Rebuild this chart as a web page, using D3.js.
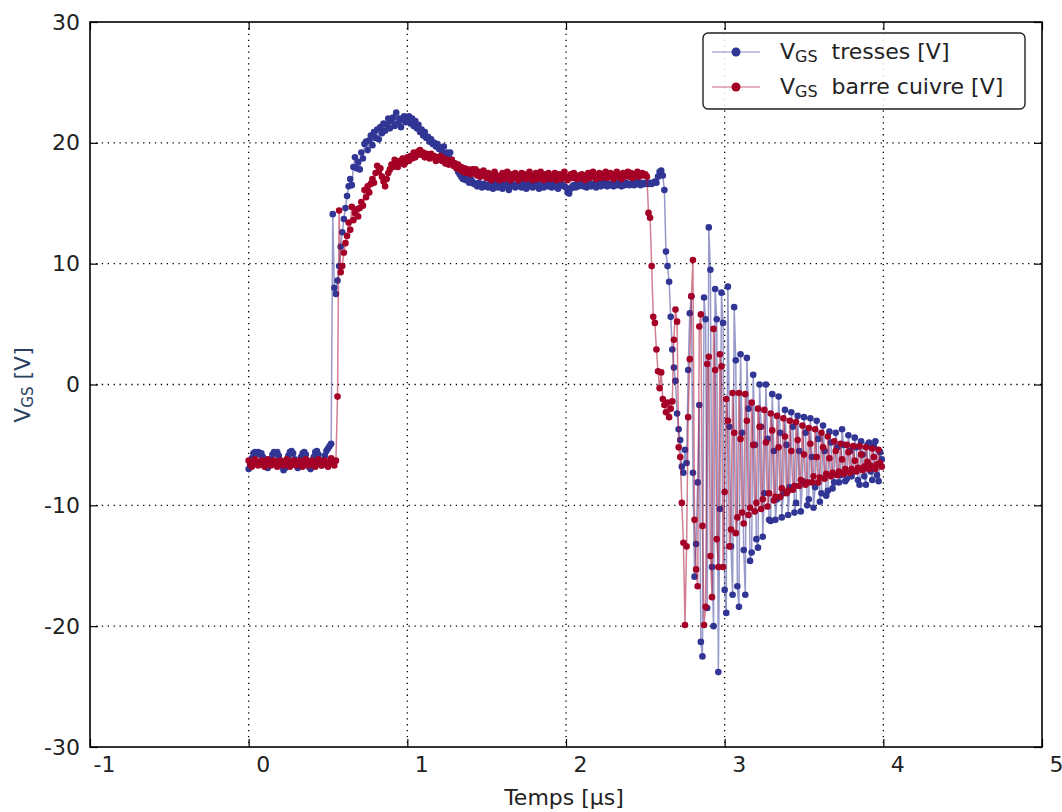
<!DOCTYPE html>
<html><head><meta charset="utf-8">
<script src="https://cdn.jsdelivr.net/npm/d3@7"></script>
<style>
html,body{margin:0;padding:0;background:#fff;}
svg{display:block;font-family:"DejaVu Sans",sans-serif;}
</style></head>
<body>
<svg id="chart" width="1062" height="812"></svg>
<script>
// ---- data (t in µs, sampled every 0.01 µs from 0) ----
const timeStart = 0;
const timeStep = 0.01;
const xTicks = [-1, 0, 1, 2, 3, 4, 5];
const yTicks = [-30, -20, -10, 0, 10, 20, 30];
const seriesNames = ["tresses [V]", "barre cuivre [V]"];

const vgsTresses = [
-7.0,-6.8,-6.1,-5.7,-5.6,-5.7,-5.6,-5.8,-5.7,-6.0,
-6.5,-6.8,-6.9,-6.6,-6.2,-5.8,-5.6,-5.7,-5.6,-5.9,
-6.3,-6.8,-7.1,-6.9,-6.4,-5.9,-5.6,-5.5,-5.7,-6.2,
-6.7,-6.9,-6.6,-6.0,-5.7,-5.6,-5.8,-6.3,-6.8,-7.0,
-6.6,-6.0,-5.6,-5.5,-5.8,-6.3,-6.7,-6.4,-5.9,-5.5,
-5.3,-5.1,-4.9,14.1,8.0,7.5,8.6,9.8,11.4,12.6,
13.7,14.6,15.6,16.4,17.0,16.5,18.0,18.8,17.9,18.4,
17.8,19.2,18.7,19.9,20.1,19.4,20.2,20.6,19.8,20.9,
20.4,21.1,20.3,21.3,20.8,21.6,21.0,21.5,22.0,21.2,
21.8,22.1,21.4,22.5,21.6,22.0,21.3,21.9,22.2,21.7,
21.9,22.2,21.6,22.0,21.4,21.8,21.2,21.5,20.9,21.1,
20.6,20.9,20.4,20.5,20.1,20.3,19.9,20.0,19.7,19.9,
19.5,19.6,19.2,19.7,19.0,19.2,18.8,19.2,18.6,18.3,
18.1,17.9,17.6,17.4,17.2,17.0,17.2,16.9,17.0,16.7,
17.0,16.8,16.6,16.6,16.4,16.7,16.5,16.3,16.6,16.4,
16.5,16.3,16.6,16.4,16.2,16.5,16.6,16.3,16.5,16.4,
16.2,16.5,16.6,16.4,16.1,16.4,16.6,16.5,16.3,16.5,
16.6,16.4,16.3,16.6,16.5,16.2,16.4,16.6,16.5,16.3,
16.4,16.6,16.5,16.2,16.4,16.6,16.3,16.5,16.7,16.4,
16.5,16.3,16.6,16.4,16.5,16.2,16.4,16.6,16.5,16.4,
16.3,15.9,15.8,16.2,16.4,16.5,16.3,16.6,16.4,16.5,
16.6,16.4,16.5,16.3,16.6,16.5,16.4,16.6,16.5,16.3,
16.5,16.6,16.4,16.5,16.7,16.5,16.4,16.6,16.5,16.6,
16.4,16.6,16.5,16.7,16.5,16.4,16.6,16.5,16.7,16.6,
16.5,16.6,16.7,16.5,16.6,16.8,16.6,16.5,16.7,16.6,
16.6,16.7,16.6,16.7,16.6,16.7,16.8,16.7,17.2,17.6,
17.7,17.3,16.1,11.0,9.8,8.5,5.6,2.9,1.4,0.3,
-2.4,-3.7,-4.6,-6.8,-7.3,-5.4,-6.5,1.2,5.9,7.3,
-7.3,-15.9,-13.2,-8.1,-1.7,-21.3,-22.5,7.2,5.4,-18.5,
13.0,9.5,-15.1,-20.0,7.9,5.4,-23.8,-10.3,7.6,5.1,
-17.0,-18.9,8.1,-3.5,-13.4,-17.4,6.4,2.0,-16.7,-18.4,
2.5,-4.0,-13.7,-17.4,2.2,-2.0,-14.6,-13.9,0.8,-5.0,
-12.8,-13.5,0.0,-3.5,-12.6,-9.0,0.0,-4.5,-11.2,-11.3,
-0.8,-5.5,-11.2,-9.5,-1.0,-4.0,-11.0,-9.0,-2.1,-5.0,
-10.8,-8.5,-2.3,-3.5,-10.6,-9.8,-2.6,-5.5,-10.5,-8.0,
-2.7,-4.0,-10.0,-9.5,-2.8,-6.0,-10.2,-8.5,-3.0,-4.5,
-9.7,-9.0,-3.4,-5.5,-9.2,-8.8,-3.9,-4.8,-8.6,-8.1,
-4.0,-5.2,-8.1,-7.5,-3.7,-5.0,-8.0,-7.8,-4.2,-5.5,
-7.6,-7.2,-4.4,-5.2,-7.9,-8.3,-4.7,-5.8,-7.6,-8.3,
-5.0,-4.8,-7.2,-7.9,-5.1,-4.7,-7.5,-8.0,-5.6,-6.2
];

const vgsBarreCuivre = [
-6.3,-6.6,-6.8,-6.5,-6.2,-6.4,-6.7,-6.5,-6.3,-6.6,
-6.8,-6.4,-6.2,-6.5,-6.7,-6.6,-6.3,-6.4,-6.8,-6.6,
-6.3,-6.5,-6.7,-6.4,-6.2,-6.6,-6.8,-6.5,-6.3,-6.4,
-6.7,-6.6,-6.3,-6.5,-6.8,-6.4,-6.2,-6.6,-6.7,-6.4,
-6.3,-6.6,-6.8,-6.5,-6.2,-6.4,-6.7,-6.5,-6.3,-6.6,
-6.8,-6.4,-6.1,-6.5,-6.7,-6.3,-1.0,14.4,9.3,9.8,
10.9,11.7,12.3,13.4,12.8,14.7,13.6,14.2,14.5,13.9,
14.6,15.1,14.8,16.1,15.5,16.4,15.9,16.6,17.0,16.7,
17.5,18.1,17.6,17.9,17.2,16.8,16.4,17.0,17.5,17.8,
18.2,18.0,18.6,18.3,18.0,18.5,18.4,18.7,18.2,18.6,
18.8,18.5,18.9,18.7,19.2,18.8,19.0,19.3,19.4,19.0,
19.2,18.8,19.1,19.0,18.7,19.1,18.8,18.9,18.5,18.8,
18.6,18.9,18.5,18.7,18.3,18.6,18.2,18.4,18.6,18.1,
18.3,17.9,18.2,17.8,18.0,17.6,17.9,17.5,17.8,17.6,
17.4,17.8,17.5,17.8,17.3,17.6,17.2,17.5,17.7,17.3,
17.1,17.5,17.2,16.9,17.4,17.6,17.1,17.3,16.9,17.2,
17.5,17.0,17.3,17.6,17.2,16.9,17.4,17.1,17.5,17.3,
16.9,17.2,17.5,17.1,17.4,17.0,17.3,17.6,17.2,16.9,
17.3,17.5,17.0,17.2,17.6,17.1,16.9,17.4,17.2,17.5,
17.0,17.3,17.1,17.5,16.9,17.2,17.4,17.0,17.3,17.6,
17.1,16.9,17.2,17.4,17.1,17.5,17.2,17.0,17.3,17.1,
17.4,17.2,16.9,17.3,17.5,17.1,17.3,17.6,17.2,17.0,
17.3,17.5,17.1,17.4,17.2,17.6,17.1,17.3,17.5,17.2,
17.0,17.4,17.6,17.2,17.3,17.0,17.5,17.2,17.4,17.6,
17.2,17.5,17.1,17.4,17.3,17.6,17.2,17.4,17.5,17.3,
17.4,17.2,14.2,13.8,9.8,5.6,5.1,2.9,1.1,-0.3,
1.0,-1.2,-1.7,-2.3,-1.5,-2.7,-2.0,-1.4,3.7,6.2,
5.2,-5.2,-6.0,-9.8,-13.1,-19.9,-13.4,-2.7,2.1,7.3,
10.3,-11.2,-15.3,-16.7,4.8,5.8,-11.7,-19.9,-18.4,1.7,
2.3,-14.2,-17.6,4.6,1.2,-12.8,-15.1,2.5,1.5,-15.1,
-8.9,-1.2,-3.0,-13.4,-12.0,-0.7,-4.0,-12.3,-11.0,-0.7,
-4.5,-10.6,-11.5,-0.8,-3.0,-10.8,-10.2,-1.5,-5.0,-10.5,
-9.8,-2.0,-3.5,-10.3,-9.5,-2.1,-4.8,-10.1,-9.0,-2.4,
-3.8,-9.6,-9.3,-2.6,-5.2,-9.3,-8.6,-2.8,-4.3,-9.0,
-8.8,-3.0,-5.5,-8.7,-8.4,-3.1,-4.6,-8.4,-7.9,-3.4,
-5.8,-8.3,-8.1,-3.6,-4.9,-8.1,-7.6,-3.7,-6.0,-8.1,
-7.7,-4.0,-5.2,-7.8,-7.4,-4.3,-6.1,-7.6,-7.3,-4.7,
-5.5,-7.5,-7.2,-4.9,-6.2,-7.4,-7.0,-5.0,-5.6,-7.3,
-7.0,-5.1,-6.3,-7.2,-6.9,-5.1,-5.8,-7.1,-6.8,-5.2,
-6.4,-7.0,-6.7,-5.3,-6.0,-7.0,-6.6,-5.4,-6.5,-6.8
];

// ---- layout ----
const W = 1062, H = 812;
const M = {left: 90, right: 1042, top: 22, bottom: 747};
const colors = ["#313695", "#a50026"];

const svg = d3.select("#chart");
const x = d3.scaleLinear().domain([-1, 5]).range([M.left, M.right]);
const y = d3.scaleLinear().domain([-30, 30]).range([M.bottom, M.top]);
const fmt = d => String(d).replace("\u2212", "-");

// grid
const grid = svg.append("g").attr("stroke", "#000").attr("stroke-width", 1.3)
  .attr("stroke-dasharray", "1.3,4.6");
grid.selectAll(".gx").data(xTicks.slice(1, -1)).join("line")
  .attr("x1", d => x(d)).attr("x2", d => x(d)).attr("y1", M.top).attr("y2", M.bottom);
grid.selectAll(".gy").data(yTicks.slice(1, -1)).join("line")
  .attr("y1", d => y(d)).attr("y2", d => y(d)).attr("x1", M.left).attr("x2", M.right);

// series
const series = [vgsTresses, vgsBarreCuivre].map((vals, k) => ({
  k, pts: vals.map((v, i) => ({t: timeStart + i * timeStep, v}))
}));
const line = d3.line().x(d => x(d.t)).y(d => y(d.v));
series.forEach(s => {
  const g = svg.append("g");
  g.append("path").attr("d", line(s.pts)).attr("fill", "none")
    .attr("stroke", colors[s.k]).attr("stroke-opacity", 0.5).attr("stroke-width", 1.5);
  g.selectAll("circle").data(s.pts).join("circle")
    .attr("cx", d => x(d.t)).attr("cy", d => y(d.v)).attr("r", 3.3)
    .attr("fill", colors[s.k]);
});

// axes (inward ticks on all sides)
const axFont = 22;
const xb = svg.append("g").attr("transform", `translate(0,${M.bottom})`)
  .call(d3.axisBottom(x).tickValues(xTicks).tickFormat(fmt).tickSizeInner(-8).tickSizeOuter(0).tickPadding(9));
const xt = svg.append("g").attr("transform", `translate(0,${M.top})`)
  .call(d3.axisTop(x).tickValues(xTicks).tickFormat("").tickSizeInner(-8).tickSizeOuter(0));
const yl = svg.append("g").attr("transform", `translate(${M.left},0)`)
  .call(d3.axisLeft(y).tickValues(yTicks).tickFormat(fmt).tickSizeInner(-8).tickSizeOuter(0).tickPadding(10));
const yr = svg.append("g").attr("transform", `translate(${M.right},0)`)
  .call(d3.axisRight(y).tickValues(yTicks).tickFormat("").tickSizeInner(-8).tickSizeOuter(0));
[xb, xt, yl, yr].forEach(g => {
  g.select(".domain").remove();
  g.selectAll("line").attr("stroke", "#000").attr("stroke-width", 1.2);
  g.selectAll("text").attr("font-family", "DejaVu Sans").attr("font-size", axFont).attr("fill", "#222");
});
xb.selectAll("text").attr("dy", "0.71em").attr("dx", 14);

// frame
svg.append("rect").attr("x", M.left).attr("y", M.top)
  .attr("width", M.right - M.left).attr("height", M.bottom - M.top)
  .attr("fill", "none").attr("stroke", "#000").attr("stroke-width", 1.6);

// axis titles
svg.append("text").attr("x", 564).attr("y", 805)
  .attr("text-anchor", "middle").attr("font-size", 22).attr("fill", "#222").text("Temps [µs]");
const yt = svg.append("text").attr("transform", "translate(30,385) rotate(-90)")
  .attr("text-anchor", "middle").attr("font-size", 22).attr("fill", "#2a3f5f");
yt.append("tspan").text("V");
yt.append("tspan").attr("font-size", 15).attr("dy", 3).text("GS");
yt.append("tspan").attr("dy", -3).text(" [V]");

// legend
const lg = svg.append("g");
lg.append("rect").attr("x", 703).attr("y", 33).attr("width", 322).attr("height", 76)
  .attr("rx", 5).attr("fill", "#fff").attr("fill-opacity", 0.85)
  .attr("stroke", "#222").attr("stroke-width", 1.4);
seriesNames.forEach((name, k) => {
  const cy = 52 + k * 35;
  lg.append("line").attr("x1", 712).attr("x2", 760).attr("y1", cy).attr("y2", cy)
    .attr("stroke", colors[k]).attr("stroke-opacity", 0.4).attr("stroke-width", 1.5);
  lg.append("circle").attr("cx", 736).attr("cy", cy).attr("r", 4.5).attr("fill", colors[k]);
  const tx = lg.append("text").attr("x", 780).attr("y", cy + 7).attr("font-size", 22).attr("fill", "#222");
  tx.append("tspan").text("V");
  tx.append("tspan").attr("font-size", 16).attr("dy", 3).text("GS");
  tx.append("tspan").attr("dy", -3).text("\u00a0 " + name);
});
</script>
</body></html>
